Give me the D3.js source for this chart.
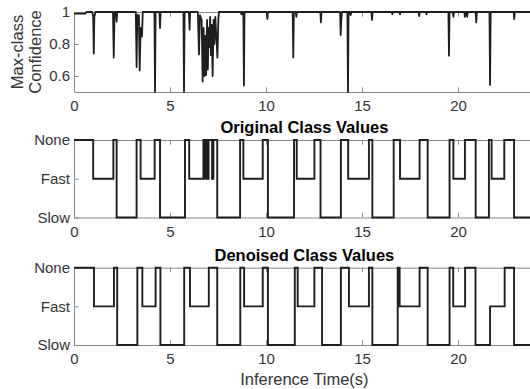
<!DOCTYPE html>
<html>
<head>
<meta charset="utf-8">
<script src="https://cdn.jsdelivr.net/npm/d3@7"></script>
<style>
  body { margin: 0; background: #fff; }
  svg { display: block; font-family: "Liberation Sans", Arial, sans-serif; }
  .axis path, .axis line { stroke: #8a8a8a; stroke-width: 1; }
  .axis text { fill: #333; font-size: 15px; }
</style>
</head>
<body>
<svg id="chart" width="530" height="389"></svg>
<script>
// x ticks shared by the three panels
var xTicks = [0, 5, 10, 15, 20];
var confTicks = [0.6, 0.8, 1];
var classLabels = ["Slow", "Fast", "None"];

// max-class confidence (time, value)
var confT = [0, 0.6, 0.65, 0.95, 1.0, 1.03, 1.06, 1.12,
  2.03, 2.07, 2.11, 2.19, 2.22, 2.25,
  3.22, 3.26, 3.3, 3.38, 3.42, 3.47, 3.54, 3.58,
  4.19, 4.22, 4.25, 4.45, 4.48, 4.51,
  5.70, 5.73, 5.76, 5.99, 6.02, 6.05,
  6.45, 6.51, 6.56, 6.65, 6.70, 6.75, 6.79, 6.84, 6.88, 6.93, 6.97, 7.01, 7.05, 7.09, 7.13, 7.17, 7.22, 7.27, 7.31, 7.36, 7.41, 7.47, 7.52, 7.55,
  8.69, 8.72, 8.76, 8.82, 8.85, 8.88,
  10.04, 10.07, 10.1,
  11.39, 11.42, 11.45, 11.55, 11.58, 11.61,
  12.83, 12.86, 12.89,
  13.86, 13.89, 13.92, 13.96,
  14.24, 14.27, 14.30, 14.38, 14.41, 14.44,
  15.49, 15.52, 15.55,
  16.55, 16.58, 16.61, 16.95, 16.98, 17.01,
  17.95, 17.98, 18.01, 18.33, 18.36, 18.39,
  19.50, 19.53, 19.56, 19.73, 19.76, 19.79,
  20.33, 20.36, 20.39, 20.45, 20.48, 20.51,
  20.92, 20.95, 20.98,
  21.64, 21.67, 21.70,
  22.90, 22.93, 22.96, 24];
var confV = [0.99, 0.99, 1, 1, 0.97, 0.74, 0.97, 1,
  1, 0.715, 1, 1, 0.94, 1,
  1, 0.656, 0.98, 0.98, 0.635, 0.9, 0.846, 1,
  1, 0.5, 1, 1, 0.90, 1,
  1, 0.5, 1, 1, 0.89, 1,
  1, 0.735, 0.98, 0.95, 0.565, 0.9, 0.6, 0.85, 0.606, 0.95, 0.64, 0.9, 0.78, 0.97, 0.73, 0.92, 0.6, 0.95, 0.8, 0.97, 0.85, 0.715, 0.96, 1,
  1, 0.985, 1, 1, 0.54, 1,
  1, 0.956, 1,
  1, 0.715, 1, 1, 0.97, 1,
  1, 0.935, 1,
  1, 0.856, 0.95, 1,
  1, 0.5, 1, 1, 0.98, 1,
  1, 0.95, 1,
  1, 0.985, 1, 1, 0.985, 1,
  1, 0.975, 1, 1, 0.985, 1,
  1, 0.727, 1, 1, 0.97, 1,
  1, 0.97, 1, 1, 0.97, 1,
  1, 0.935, 1,
  1, 0.544, 1,
  1, 0.955, 1, 1];

// class values: change times and class index (0 Slow, 1 Fast, 2 None)
var origT = [0, 1.0, 2.05, 2.22, 3.26, 3.47, 4.2, 4.48, 5.78, 6.0, 6.74, 6.80, 6.875, 6.94, 7.01, 7.19, 7.26, 7.46,
  8.65, 8.82, 9.83, 10.1, 11.46, 11.6, 12.52, 12.84, 13.9, 14.28, 15.36, 15.54, 16.65, 16.98,
  18.0, 18.42, 19.56, 19.76, 20.36, 20.92, 21.61, 21.75, 22.41, 22.92, 24];
var origC = [2, 1, 2, 0, 2, 1, 2, 0, 2, 1, 2, 1, 2, 1, 2, 1, 2, 0,
  2, 1, 2, 0, 2, 1, 2, 0, 2, 1, 2, 0, 2, 1,
  2, 0, 2, 1, 2, 0, 2, 1, 2, 0, 0];

var denT = [0, 1.04, 2.08, 2.25, 3.3, 3.56, 4.25, 4.5, 5.74, 6.04, 7.02, 7.46, 8.66, 8.86, 9.83, 10.1,
  11.5, 11.65, 12.52, 12.92, 13.9, 14.32, 15.36, 15.54, 16.86, 16.96, 18.0, 18.42, 19.56, 19.75,
  20.37, 20.91, 21.67, 22.43, 22.92, 24];
var denC = [2, 1, 2, 0, 2, 1, 2, 0, 2, 1, 2, 0, 2, 1, 2, 0,
  2, 1, 2, 0, 2, 1, 2, 0, 2, 1, 2, 0, 2, 1,
  2, 0, 1, 2, 0, 0];

var svg = d3.select("svg#chart");
var left = 74, right = 534.8, tick = 4.6;

var x = d3.scaleLinear().domain([0, 24]).range([left, right]);

function drawBox(g, y, top, bottom, yTickValues, yFormat) {
  g.append("g")
    .attr("class", "axis")
    .attr("transform", "translate(0," + bottom + ")")
    .call(d3.axisBottom(x).tickValues(xTicks).tickSizeInner(-tick).tickSizeOuter(0).tickPadding(8.5));
  g.append("g")
    .attr("class", "axis")
    .attr("transform", "translate(0," + top + ")")
    .call(d3.axisTop(x).tickValues(xTicks).tickSizeInner(-tick).tickSizeOuter(0).tickFormat(""));
  var ya = d3.axisLeft(y).tickValues(yTickValues).tickSizeInner(-tick).tickSizeOuter(0).tickPadding(4);
  if (yFormat) ya.tickFormat(yFormat);
  g.append("g")
    .attr("class", "axis")
    .attr("transform", "translate(" + left + ",0)")
    .call(ya);
  g.append("g")
    .attr("class", "axis")
    .attr("transform", "translate(" + right + ",0)")
    .call(d3.axisRight(y).tickValues(yTickValues).tickSizeInner(-tick).tickSizeOuter(0).tickFormat(""));
  g.selectAll(".axis text").attr("font-family", null).attr("font-size", null);
}

// Panel 1: confidence
var y1 = d3.scaleLinear().domain([0.5, 1]).range([92, 12]);
var g1 = svg.append("g");
drawBox(g1, y1, 12, 92, confTicks, d3.format("~g"));

var confData = confT.map(function(t, i) { return [t, confV[i]]; });
g1.append("path")
  .datum(confData)
  .attr("fill", "none")
  .attr("stroke", "#1e1e1e")
  .attr("stroke-width", 1.8)
  .attr("stroke-linejoin", "round")
  .attr("d", d3.line().x(d => x(d[0])).y(d => y1(d[1])));

svg.append("text")
  .attr("transform", "translate(23,52) rotate(-90)")
  .attr("text-anchor", "middle")
  .style("font-size", "16.5px")
  .style("fill", "#333")
  .text("Max-class");
svg.append("text")
  .attr("transform", "translate(41,52) rotate(-90)")
  .attr("text-anchor", "middle")
  .style("font-size", "16.5px")
  .style("fill", "#333")
  .text("Confidence");

// Panels 2 and 3: class values
function classPanel(top, bottom, title, times, codes) {
  var y = d3.scalePoint().domain(classLabels).range([bottom, top]);
  var g = svg.append("g");
  drawBox(g, y, top, bottom, classLabels, null);

  var data = times.map(function(t, i) { return [t, classLabels[codes[i]]]; });
  g.append("path")
    .datum(data)
    .attr("fill", "none")
    .attr("stroke", "#1e1e1e")
    .attr("stroke-width", 1.9)
    .attr("d", d3.line().curve(d3.curveStepAfter).x(d => x(d[0])).y(d => y(d[1])));

  svg.append("text")
    .attr("x", (left + right) / 2)
    .attr("y", top - 7)
    .attr("text-anchor", "middle")
    .style("font-size", "16.5px")
    .style("font-weight", "bold")
    .style("fill", "#000")
    .text(title);
}

classPanel(140, 217.5, "Original Class Values", origT, origC);
classPanel(267.7, 345, "Denoised Class Values", denT, denC);

svg.append("text")
  .attr("x", (left + right) / 2)
  .attr("y", 385)
  .attr("text-anchor", "middle")
  .style("font-size", "16.5px")
  .style("fill", "#333")
  .text("Inference Time(s)");
</script>
</body>
</html>
